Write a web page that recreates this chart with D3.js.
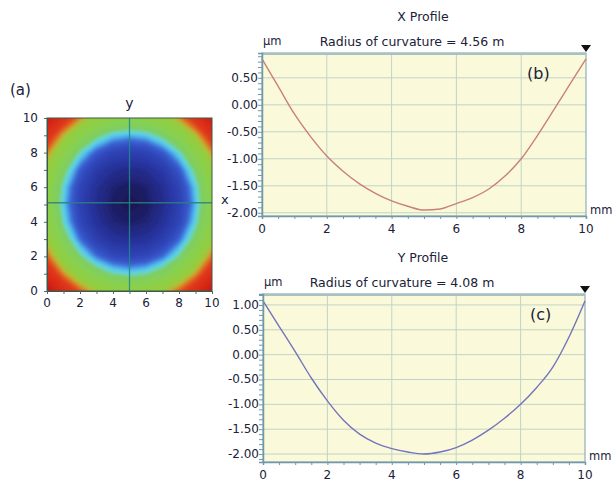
<!DOCTYPE html>
<html>
<head>
<meta charset="utf-8">
<script src="https://cdn.jsdelivr.net/npm/d3@7"></script>
<style>
  body { margin: 0; background: #fff; }
  svg text { font-family: "DejaVu Sans", Verdana, sans-serif; fill: #1a2238; }
</style>
</head>
<body>
<svg id="chart" width="612" height="482"></svg>
<script>
// positions along each profile (mm)
const positions = [0, 0.5, 1, 1.5, 2, 2.5, 3, 3.5, 4, 4.5, 5, 5.5, 6, 6.5, 7, 7.5, 8, 8.5, 9, 9.5, 10];
// height along X (um)
const x_profile = [0.85, 0.34, -0.17, -0.59, -0.95, -1.23, -1.46, -1.64, -1.78, -1.88, -1.95,
  -1.93, -1.83, -1.72, -1.56, -1.32, -1.00, -0.57, -0.10, 0.38, 0.85];
// height along Y (um)
const y_profile = [1.08, 0.57, 0.06, -0.47, -0.93, -1.32, -1.60, -1.78, -1.89, -1.96, -2.00,
  -1.96, -1.87, -1.72, -1.52, -1.28, -1.00, -0.66, -0.25, 0.35, 1.08];

// map heights (um) on a 1 mm grid, rows y = 0 .. 10, columns x = 0 .. 10
const map_grid = [
  [3.87, 2.83, 2.03, 1.45, 1.11, 0.99, 1.09, 1.42, 1.98, 2.76, 3.80],
  [2.81, 1.77, 0.97, 0.39, 0.05, -0.07, 0.03, 0.36, 0.92, 1.70, 2.74],
  [1.98, 0.95, 0.14, -0.44, -0.78, -0.90, -0.80, -0.47, 0.09, 0.88, 1.91],
  [1.38, 0.35, -0.46, -1.03, -1.38, -1.49, -1.40, -1.06, -0.51, 0.28, 1.31],
  [1.01, -0.02, -0.83, -1.40, -1.75, -1.86, -1.77, -1.43, -0.88, -0.09, 0.94],
  [0.88, -0.16, -0.96, -1.54, -1.88, -2.00, -1.90, -1.57, -1.01, -0.23, 0.81],
  [0.97, -0.07, -0.87, -1.45, -1.79, -1.91, -1.81, -1.48, -0.92, -0.14, 0.90],
  [1.29, 0.26, -0.55, -1.13, -1.47, -1.59, -1.49, -1.16, -0.60, 0.19, 1.22],
  [1.84, 0.81, 0.00, -0.57, -0.92, -1.03, -0.94, -0.60, -0.05, 0.74, 1.77],
  [2.62, 1.59, 0.78, 0.21, -0.14, -0.25, -0.16, 0.18, 0.73, 1.52, 2.55],
  [3.64, 2.60, 1.80, 1.22, 0.88, 0.76, 0.86, 1.19, 1.75, 2.53, 3.57],
];

const map_ticks = [0, 2, 4, 6, 8, 10];
const profile_ticks_x = [0, 2, 4, 6, 8, 10];
const profile_ticks_y = [-2.0, -1.5, -1.0, -0.5, 0.0, 0.5, 1.0];

const svg = d3.select('#chart');
const defs = svg.append('defs');

/* ---------- (a) height map ---------- */
const map = { left: 47, right: 212, top: 118, bottom: 291 };
const mx = d3.scaleLinear().domain([0, 10]).range([map.left, map.right]);
const my = d3.scaleLinear().domain([0, 10]).range([map.bottom, map.top]);

const heat = d3.scaleLinear()
  .domain([-2.0, -1.7, -1.3, -0.8, -0.5, -0.35, -0.2, -0.03, 0.12, 0.8, 1.4, 1.65, 1.9, 2.25, 3.3, 3.9])
  .range(['#1a1650', '#21277c', '#2935a0', '#3148ba', '#3a5ed0', '#468ae2', '#55c0ec', '#62d8e0',
    '#7ccf6a', '#8cd04a', '#96cc3e', '#c4b232', '#df6c24', '#e0391c', '#d42419', '#b81a16'])
  .clamp(true);

const n = map_grid.length;
const flat = map_grid.flat();
const levels = d3.range(-2.1, 4.0, 0.04);
const bands = d3.contours().size([n, n]).thresholds(levels)(flat);

// grid index i sits at the middle of contour cell i
const to_map = d3.geoPath(d3.geoTransform({
  point: function (gx, gy) { this.stream.point(mx(gx - 0.5), my(gy - 0.5)); },
}));

defs.append('clipPath').attr('id', 'map-clip')
  .append('rect')
  .attr('x', map.left).attr('y', map.top)
  .attr('width', map.right - map.left).attr('height', map.bottom - map.top);

defs.append('filter').attr('id', 'smooth')
  .attr('x', '-20%').attr('y', '-20%').attr('width', '140%').attr('height', '140%')
  .append('feGaussianBlur').attr('stdDeviation', 1.6);

svg.append('g')
  .attr('clip-path', 'url(#map-clip)')
  .append('g')
  .attr('filter', 'url(#smooth)')
  .selectAll('path')
  .data(bands)
  .join('path')
  .attr('d', to_map)
  .attr('fill', d => heat(d.value + 0.02))
  .attr('stroke', d => heat(d.value + 0.02))
  .attr('stroke-width', 0.6);

// cross-hair lines
svg.append('line')
  .attr('x1', mx(5)).attr('x2', mx(5))
  .attr('y1', map.top).attr('y2', map.bottom)
  .attr('stroke', '#1e8c8a').attr('stroke-width', 1.3).attr('opacity', 0.85);
svg.append('line')
  .attr('x1', map.left).attr('x2', map.right)
  .attr('y1', my(5.1)).attr('y2', my(5.1))
  .attr('stroke', '#2b7f86').attr('stroke-width', 1.3).attr('opacity', 0.85);

svg.append('rect')
  .attr('x', map.left).attr('y', map.top)
  .attr('width', map.right - map.left).attr('height', map.bottom - map.top)
  .attr('fill', 'none').attr('stroke', '#3b5a4a').attr('stroke-width', 1);

const map_axis_left = svg.append('g').attr('transform', `translate(${map.left},0)`)
  .call(d3.axisLeft(my).tickValues(d3.range(0, 11, 1)).tickSize(3).tickFormat(''));
const map_axis_bottom = svg.append('g').attr('transform', `translate(0,${map.bottom})`)
  .call(d3.axisBottom(mx).tickValues(d3.range(0, 11, 1)).tickSize(3).tickFormat(''));
[map_axis_left, map_axis_bottom].forEach(g => {
  g.select('.domain').attr('stroke', '#3b5a4a');
  g.selectAll('.tick line').attr('stroke', '#4a6a70');
});

svg.append('g').selectAll('text')
  .data(map_ticks).join('text')
  .attr('x', map.left - 9).attr('y', d => my(d) + 4)
  .attr('text-anchor', 'end').style('font-size', '12px')
  .text(d => d);
svg.append('g').selectAll('text')
  .data(map_ticks).join('text')
  .attr('x', d => mx(d)).attr('y', map.bottom + 16)
  .attr('text-anchor', 'middle').style('font-size', '12px')
  .text(d => d);

svg.append('text').attr('x', 10).attr('y', 95).style('font-size', '15px').text('(a)');
svg.append('text').attr('x', mx(5)).attr('y', 108).attr('text-anchor', 'middle')
  .style('font-size', '14px').text('y');

/* ---------- (b) and (c) profiles ---------- */
const draw_profile = function (opt) {
  const x = d3.scaleLinear().domain([0, 10]).range([opt.left, opt.right]);
  const y = d3.scaleLinear().domain(opt.domain).range([opt.bottom, opt.top]);
  const g = svg.append('g');

  g.append('rect')
    .attr('x', opt.left).attr('y', opt.top)
    .attr('width', opt.right - opt.left).attr('height', opt.bottom - opt.top)
    .attr('fill', '#fafadb');

  const gy = opt.ticks_y.filter(t => t >= opt.domain[0] && t <= opt.domain[1]);
  g.append('g').selectAll('line')
    .data(gy).join('line')
    .attr('x1', opt.left).attr('x2', opt.right)
    .attr('y1', d => y(d)).attr('y2', d => y(d))
    .attr('stroke', '#c3d2c6').attr('stroke-width', 1);
  g.append('g').selectAll('line')
    .data(profile_ticks_x.slice(1, -1)).join('line')
    .attr('x1', d => x(d)).attr('x2', d => x(d))
    .attr('y1', opt.top).attr('y2', opt.bottom)
    .attr('stroke', '#c3d2c6').attr('stroke-width', 1);

  // frame
  g.append('rect')
    .attr('x', opt.left).attr('y', opt.top)
    .attr('width', opt.right - opt.left).attr('height', opt.bottom - opt.top)
    .attr('fill', 'none').attr('stroke', '#8fb0b4').attr('stroke-width', 1.2);
  g.append('line')
    .attr('x1', opt.left).attr('x2', opt.right)
    .attr('y1', opt.top + 1).attr('y2', opt.top + 1)
    .attr('stroke', '#a8c2c4').attr('stroke-width', 2);

  // curve
  const pts = positions.map((p, i) => [p, opt.values[i]]);
  g.append('path')
    .datum(pts)
    .attr('fill', 'none')
    .attr('stroke', opt.color)
    .attr('stroke-width', 1.4)
    .attr('d', d3.line().x(d => x(d[0])).y(d => y(d[1])).curve(d3.curveMonotoneX));

  // axes with dense minor ticks
  const ay = g.append('g').attr('transform', `translate(${opt.left},0)`)
    .call(d3.axisLeft(y)
      .tickValues(d3.range(-21, 13, 1).map(v => v / 10).filter(v => v >= opt.domain[0] && v <= opt.domain[1]))
      .tickSize(4).tickFormat(''));
  const ax = g.append('g').attr('transform', `translate(0,${opt.bottom})`)
    .call(d3.axisBottom(x).tickValues(d3.range(0, 10.5, 0.5)).tickSize(3).tickFormat(''));
  [ay, ax].forEach(a => {
    a.select('.domain').attr('stroke', '#6f98a8').attr('stroke-width', 1.5);
    a.selectAll('.tick line').attr('stroke', '#6f98a8');
  });

  g.append('g').selectAll('text')
    .data(gy).join('text')
    .attr('x', opt.left - 4).attr('y', d => y(d) + 4)
    .attr('text-anchor', 'end').style('font-size', '12px')
    .text(d => d3.format('.2f')(d).replace('−', '-'));
  g.append('g').selectAll('text')
    .data(profile_ticks_x).join('text')
    .attr('x', d => x(d)).attr('y', opt.bottom + 17)
    .attr('text-anchor', 'middle').style('font-size', '12px')
    .text(d => d);

  // marker at the right end
  g.append('path')
    .attr('d', `M ${opt.right - 5} ${opt.top - 8} L ${opt.right + 5} ${opt.top - 8} L ${opt.right} ${opt.top - 1} Z`)
    .attr('fill', '#111');

  g.append('text').attr('x', 423).attr('y', opt.title_y).attr('text-anchor', 'middle')
    .style('font-size', '12.5px').text(opt.title);
  g.append('text').attr('x', opt.sub_x).attr('y', opt.title_y + 25).attr('text-anchor', 'middle')
    .style('font-size', '12.5px').text(opt.subtitle);
  g.append('text').attr('x', opt.left + 1).attr('y', opt.title_y + 24)
    .style('font-size', '11.5px').text('µm');
  g.append('text').attr('x', opt.right + 4).attr('y', opt.bottom - 2)
    .style('font-size', '11.5px').text('mm');
  g.append('text').attr('x', opt.label_x).attr('y', opt.top + 26)
    .style('font-size', '16px').text(opt.label);
};

draw_profile({
  left: 262, right: 586, top: 53, bottom: 216,
  domain: [-2.06, 0.96],
  ticks_y: profile_ticks_y.filter(t => t <= 0.5),
  values: x_profile,
  color: '#c98078',
  title: 'X Profile', title_y: 21, sub_x: 412,
  subtitle: 'Radius of curvature = 4.56 m',
  label: '(b)', label_x: 527,
});

draw_profile({
  left: 263, right: 585, top: 294, bottom: 462,
  domain: [-2.16, 1.22],
  ticks_y: profile_ticks_y,
  values: y_profile,
  color: '#7474bc',
  title: 'Y Profile', title_y: 262, sub_x: 402,
  subtitle: 'Radius of curvature = 4.08 m',
  label: '(c)', label_x: 530,
});

// label of the horizontal cross-hair in (a)
svg.append('text').attr('x', 221).attr('y', 204).style('font-size', '13px').text('x');
</script>
</body>
</html>
